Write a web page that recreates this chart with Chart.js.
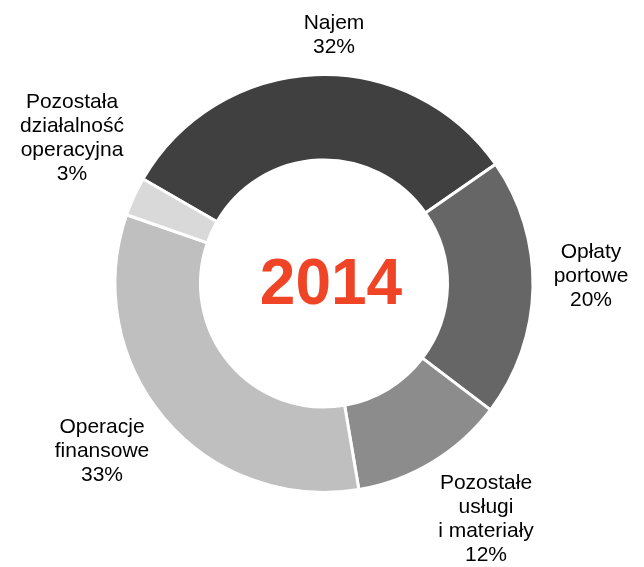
<!DOCTYPE html>
<html>
<head>
<meta charset="utf-8">
<script src="https://cdn.jsdelivr.net/npm/chart.js@4/dist/chart.umd.min.js"></script>
<style>
  html, body { margin: 0; padding: 0; background: #ffffff; }
  #wrap { position: relative; width: 644px; height: 567px; }
</style>
</head>
<body>
<div id="wrap"><canvas id="c"></canvas></div>
<script>
// ---- data ----
const categories = ["Najem", "Opłaty portowe", "Pozostałe usługi i materiały", "Operacje finansowe", "Pozostała działalność operacyjna"];
const values = [32, 20, 12, 33, 3];
const labelLines = [
  ["Najem", "32%"],
  ["Opłaty", "portowe", "20%"],
  ["Pozostałe", "usługi", "i materiały", "12%"],
  ["Operacje", "finansowe", "33%"],
  ["Pozostała", "działalność", "operacyjna", "3%"]
];
const centerTitle = "2014";

// ---- styles ----
const sliceColors = ["#404040", "#666666", "#8c8c8c", "#bfbfbf", "#d9d9d9"];
// first-baseline offsets of each label block, relative to the doughnut centre
const labelOffsets = [[10, -255], [267, -25.5], [162, 205.5], [-222, 149.5], [-252, -175.5]];

const labelPlugin = {
  id: 'outerLabels',
  afterDraw(chart) {
    const ctx = chart.ctx;
    const arc = chart.getDatasetMeta(0).data[0];
    if (!arc) return;
    const cx = arc.x, cy = arc.y;
    ctx.save();
    ctx.fillStyle = '#000000';
    ctx.font = '21px "Liberation Sans", Arial, sans-serif';
    ctx.textAlign = 'center';
    ctx.textBaseline = 'alphabetic';
    labelLines.forEach((lines, i) => {
      const [dx, dy] = labelOffsets[i];
      lines.forEach((t, j) => {
        ctx.fillText(t, cx + dx, cy + dy + j * 24);
      });
    });
    ctx.fillStyle = '#ef4526';
    ctx.font = 'bold 64px "Liberation Sans", Arial, sans-serif';
    ctx.fillText(centerTitle, cx + 7, cy + 20.5);
    ctx.restore();
  }
};

new Chart(document.getElementById('c'), {
  type: 'doughnut',
  data: {
    labels: categories,
    datasets: [{
      data: values,
      backgroundColor: sliceColors,
      borderColor: '#ffffff',
      borderWidth: 3,
      hoverBorderWidth: 3,
      hoverOffset: 0
    }]
  },
  options: {
    responsive: true,
    maintainAspectRatio: false,
    animation: false,
    rotation: -60,
    radius: 209,
    cutout: '59.1%',
    layout: { padding: { left: 4, right: 0, top: 0, bottom: 0 } },
    plugins: {
      legend: { display: false },
      tooltip: { enabled: false }
    },
    events: []
  },
  plugins: [labelPlugin]
});
</script>
</body>
</html>
